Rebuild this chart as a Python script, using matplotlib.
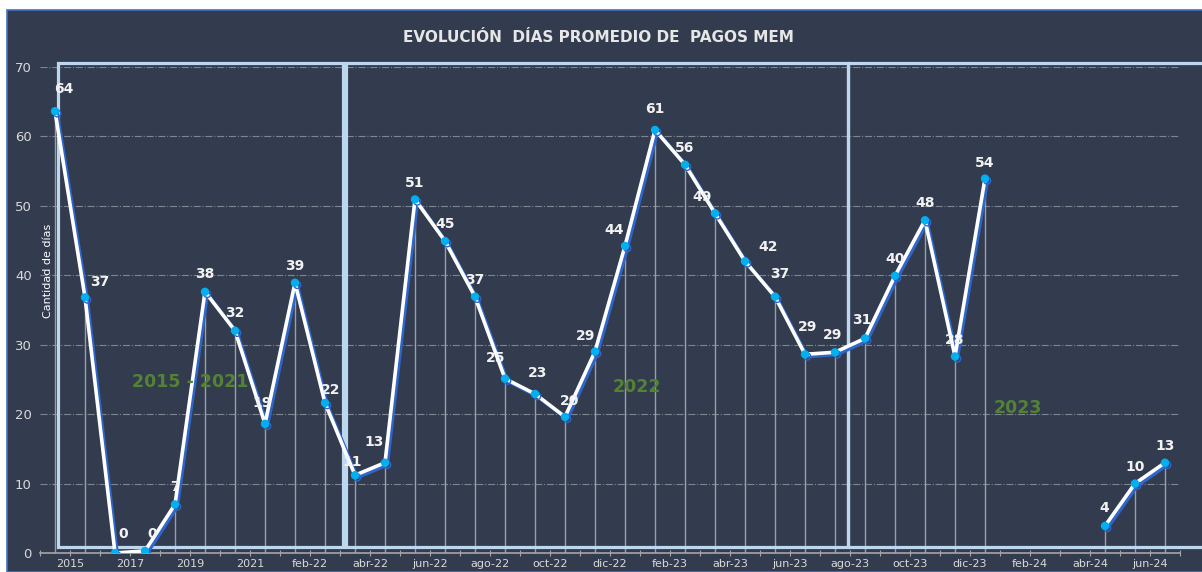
import numpy as np
import matplotlib.pyplot as plt
import matplotlib.patheffects as pe
from matplotlib.patches import Rectangle

# ---------------- datos ----------------
periodos = ['2015', '2016', '2017', '2018', '2019', '2020', '2021',
            'ene-22', 'feb-22', 'mar-22', 'abr-22', 'may-22', 'jun-22', 'jul-22',
            'ago-22', 'sep-22', 'oct-22', 'nov-22', 'dic-22',
            'ene-23', 'feb-23', 'mar-23', 'abr-23', 'may-23', 'jun-23', 'jul-23',
            'ago-23', 'sep-23', 'oct-23', 'nov-23', 'dic-23',
            'ene-24', 'feb-24', 'mar-24', 'abr-24', 'may-24', 'jun-24', 'jul-24']
dias = [63.6, 36.8, 0.0, 0.3, 7.0, 37.6, 32.0, 18.6, 38.9, 21.6,
        11.2, 13.0, 50.9, 44.9, 36.9, 25.1, 22.9, 19.6, 29.0, 44.2,
        60.9, 55.9, 48.9, 42.0, 36.9, 28.6, 28.9, 30.9, 39.9, 47.9,
        28.3, 53.9, np.nan, np.nan, np.nan, 3.9, 10.0, 13.0]
# etiquetas de los bloques
bloques = ['2015 - 2021', '2022', '2023']
bloques_x = [4.5, 19.4, 32.1]
bloques_y = [24.6, 23.9, 20.9]

# desplazamiento de las etiquetas de datos (pixeles)
offs = [(9, 22), (15, 15), (8, 19), (7, 17), (0, 17), (0, 18), (0, 18), (-3, 21),
        (0, 17), (6, 13), (-3, 13), (-11, 21), (0, 16), (0, 17), (0, 17), (-9, 21),
        (3, 21), (5, 16), (-9, 16), (-11, 16), (0, 21), (0, 17), (-13, 16), (23, 14),
        (5, 23), (3, 27), (-2, 17), (-3, 18), (0, 17), (0, 17), (0, 16), (0, 16),
        (0, 0), (0, 0), (0, 0), (-1, 18), (0, 17), (0, 17)]

FONDO = '#323c4e'
n = len(periodos)
x = np.arange(n)
y = np.array(dias)

fig = plt.figure(figsize=(12.02, 5.72), dpi=100)
fig.patch.set_facecolor('white')
fig.add_artist(Rectangle((7/1202, 0), 1, 1 - 10/572, transform=fig.transFigure,
                         facecolor=FONDO, edgecolor='#4472c4', lw=1.2, zorder=0))

ax = fig.add_axes([40/1202, 1 - 553/572, 1140/1202, (553 - 66.7)/572])
ax.set_facecolor('none')
ax.set_xlim(-0.5, n - 0.5)
ax.set_ylim(0, 70)

# lineas verticales de caida
ok = ~np.isnan(y)
ax.vlines(x[ok], 0, y[ok], color='#9aa0aa', lw=1, zorder=2)

ax.plot(x, y, color='white', lw=2.6, marker='o', ms=5,
        mfc='#00b0f0', mec='#00b0f0', zorder=4,
        path_effects=[pe.SimpleLineShadow(offset=(1.6, -1.6), shadow_color='#2e66c9', alpha=1.0),
                      pe.Normal()])

for i in range(n):
    if np.isnan(y[i]):
        continue
    ax.annotate(str(int(round(y[i]))), (x[i], y[i]), xytext=offs[i],
                textcoords='offset pixels', ha='center', va='center',
                fontsize=10, fontweight='bold', color='#f2f2f2', zorder=5)

for t, bx, by in zip(bloques, bloques_x, bloques_y):
    ax.text(bx, by, t, ha='center', va='center', fontsize=12.5,
            fontweight='bold', color='#548235', zorder=5)

# recuadros de los bloques
cajas = [(0.1, 9.6), (9.7, 26.43), (26.43, 38.4)]
for a, b in cajas:
    ax.add_patch(Rectangle((a, 0.9), b - a, 70.5 - 0.9, fill=False,
                           edgecolor='#bdd7ee', lw=2.3, clip_on=False, zorder=3))

# ejes
ax.grid(axis='y', color='#7f8590', lw=0.8, linestyle='-.')
ax.set_axisbelow(True)
for s in ['top', 'right', 'left']:
    ax.spines[s].set_visible(False)
ax.spines['bottom'].set_color('#a6a6a6')
ax.spines['bottom'].set_linewidth(1.2)

ax.set_yticks(range(0, 71, 10))
ax.tick_params(axis='y', length=0, labelsize=9.5, labelcolor='#d9d9d9', pad=6)

ax.set_xticks(np.arange(-0.5, n))
etiquetas = ['']*(n + 1)
for k in range(0, n - 1, 2):
    etiquetas[k + 1] = periodos[k]
ax.set_xticklabels(etiquetas)
ax.tick_params(axis='x', direction='inout', length=5, color='#a6a6a6',
               labelsize=8, labelcolor='#d9d9d9', pad=1.5)

ax.text(0.007, 0.58, 'Cantidad de días', transform=ax.transAxes, rotation=90,
        ha='center', va='center', fontsize=8, color='white')

fig.text(598/1202, 1 - 37/572, 'EVOLUCIÓN  DÍAS PROMEDIO DE  PAGOS MEM',
         ha='center', va='center', fontsize=11, fontweight='bold', color='#e6e6e6')

fig.savefig('out.png', dpi=100)
